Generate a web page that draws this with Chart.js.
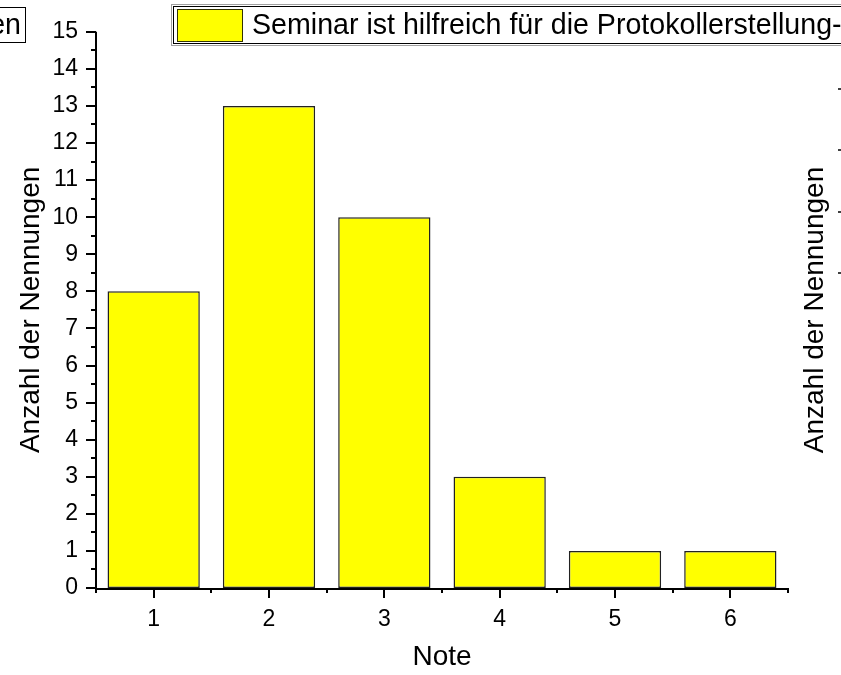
<!DOCTYPE html>
<html>
<head>
<meta charset="utf-8">
<script src="https://cdn.jsdelivr.net/npm/chart.js@4/dist/chart.umd.min.js"></script>
<style>
    html, body { margin: 0; padding: 0; background: #ffffff; }
    canvas { display: block; }
</style>
</head>
<body>
<canvas id="chart" width="841" height="675"></canvas>
<script>
const categories = ['1', '2', '3', '4', '5', '6'];
const counts = [8, 13, 10, 3, 1, 1];
const seriesLabel = 'Seminar ist hilfreich für die Protokollerstellung';
const yTitle = 'Anzahl der Nennungen';
const xTitle = 'Note';

const FONT = "'Liberation Sans', Arial, sans-serif";

// axis lines, major/minor ticks and the bits of neighbouring plots
const decorPlugin = {
    id: 'decor',
    afterDraw(chart) {
        const ctx = chart.ctx;
        const xs = chart.scales.x;
        const ys = chart.scales.y;
        const area = chart.chartArea;
        ctx.save();
        ctx.strokeStyle = '#000000';

        // y ticks every 0.5
        ctx.lineWidth = 2;
        for (let v = 0; v <= 15; v += 0.5) {
            const py = Math.round(ys.getPixelForValue(v));
            const len = Number.isInteger(v) ? 10 : 5;
            ctx.beginPath();
            ctx.moveTo(area.left - len, py);
            ctx.lineTo(area.left, py);
            ctx.stroke();
        }
        // x ticks: major at categories, minor at the boundaries
        for (let i = 0; i < categories.length; i++) {
            const px = Math.round(xs.getPixelForValue(i));
            ctx.beginPath();
            ctx.moveTo(px, area.bottom);
            ctx.lineTo(px, area.bottom + 10);
            ctx.stroke();
        }
        for (let i = 0; i <= categories.length; i++) {
            const px = Math.round(xs.getPixelForValue(i - 0.5));
            ctx.beginPath();
            ctx.moveTo(px, area.bottom);
            ctx.lineTo(px, area.bottom + 5);
            ctx.stroke();
        }
        // axis lines
        ctx.beginPath();
        ctx.moveTo(area.left, area.top);
        ctx.lineTo(area.left, area.bottom + 1);
        ctx.lineTo(area.right, area.bottom + 1);
        ctx.stroke();

        // legend
        ctx.lineWidth = 1;
        ctx.strokeStyle = '#a0a0a0';
        ctx.strokeRect(171.5, 4.5, 700, 41);
        ctx.strokeStyle = '#000000';
        ctx.strokeRect(173.5, 6.5, 700, 37);
        ctx.fillStyle = chart.data.datasets[0].backgroundColor;
        ctx.fillRect(177, 9, 66, 33);
        ctx.strokeStyle = '#333300';
        ctx.strokeRect(177.5, 9.5, 65, 32);
        ctx.fillStyle = '#000000';
        ctx.font = '28.6px ' + FONT;
        ctx.textBaseline = 'middle';
        ctx.textAlign = 'left';
        ctx.fillText(chart.data.datasets[0].label + '-', 252, 26);

        // legend of the neighbouring plot, cut by the left edge
        ctx.strokeStyle = '#000000';
        ctx.strokeRect(-2.5, 7.5, 28, 35);
        ctx.textAlign = 'right';
        ctx.fillText('Nennungen', 21, 26);

        // axis title and ticks of the neighbouring plot on the right
        ctx.save();
        ctx.translate(815, 310);
        ctx.rotate(-Math.PI / 2);
        ctx.textAlign = 'center';
        ctx.font = '28px ' + FONT;
        ctx.fillText(yTitle, 0, 0);
        ctx.restore();
        ctx.lineWidth = 1.5;
        [89, 150, 212, 273].forEach(py => {
            ctx.beginPath();
            ctx.moveTo(838, py);
            ctx.lineTo(841, py);
            ctx.stroke();
        });
        ctx.restore();
    }
};

new Chart(document.getElementById('chart'), {
    type: 'bar',
    plugins: [decorPlugin],
    data: {
        labels: categories,
        datasets: [{
            label: seriesLabel,
            data: counts,
            backgroundColor: '#ffff00',
            borderColor: '#222222',
            borderWidth: 1.5,
            borderSkipped: false,
            barPercentage: 0.8,
            categoryPercentage: 1.0
        }]
    },
    options: {
        responsive: false,
        animation: false,
        events: [],
        layout: {
            padding: { top: 30, right: 53, left: 0, bottom: 0 }
        },
        plugins: {
            legend: { display: false },
            tooltip: { enabled: false }
        },
        scales: {
            x: {
                offset: true,
                grid: { display: false, drawTicks: false },
                border: { display: false },
                ticks: {
                    color: '#000000',
                    padding: 18,
                    font: { family: FONT, size: 23 }
                },
                title: {
                    display: true,
                    text: xTitle,
                    color: '#000000',
                    padding: { top: 0, bottom: 1 },
                    font: { family: FONT, size: 28 }
                },
                afterFit(scale) { scale.height = 87; }
            },
            y: {
                min: 0,
                max: 15,
                grid: { display: false, drawTicks: false },
                border: { display: false },
                ticks: {
                    stepSize: 1,
                    color: '#000000',
                    padding: 18,
                    font: { family: FONT, size: 23 }
                },
                title: {
                    display: true,
                    text: yTitle,
                    color: '#000000',
                    padding: { top: 14, bottom: 0 },
                    font: { family: FONT, size: 28 }
                },
                afterFit(scale) { scale.width = 96; }
            }
        }
    }
});
</script>
</body>
</html>
